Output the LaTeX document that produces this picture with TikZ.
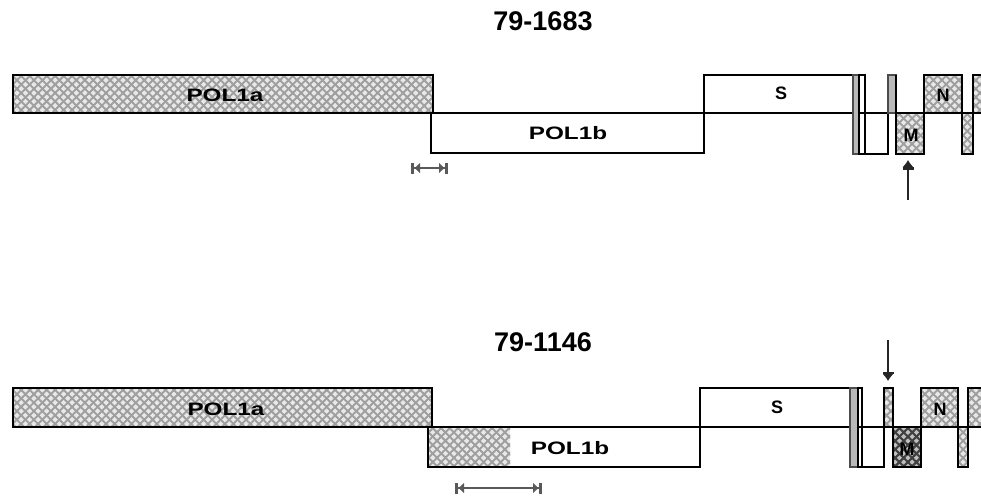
\documentclass[tikz,border=0pt]{standalone}
\usepackage{fontspec}
\setmainfont{Liberation Sans}
\usetikzlibrary{patterns,patterns.meta,arrows.meta}
\tikzset{
  hatch/.style={preaction={fill=gray!18},preaction={pattern={Hatch[angle=45,distance=6pt,line width=1.6pt]},pattern color=gray!75},
    pattern={Hatch[angle=-45,distance=6pt,line width=1.6pt]},pattern color=gray!75},
  darkhatch/.style={preaction={fill=gray!50},preaction={pattern={Hatch[angle=45,distance=6pt,line width=1.8pt]},pattern color=black!75},
    pattern={Hatch[angle=-45,distance=6pt,line width=1.8pt]},pattern color=black!75},
  seg/.style={draw=black,line width=2.6pt},
  grayseg/.style={draw=gray!60!black,fill=gray!55,line width=1.8pt},
  lbl/.style={font=\bfseries\fontsize{18}{18}\selectfont,xscale=1.35,inner sep=0pt},
  small/.style={font=\bfseries\fontsize{18}{18}\selectfont,inner sep=0pt},
  ttl/.style={font=\bfseries\fontsize{27}{27}\selectfont,inner sep=0pt},
  scalebar/.style={line width=2pt,draw=black!65,{Bar[width=11pt,line width=3pt]Latex[length=6pt,width=11pt]}-{Latex[length=6pt,width=11pt]Bar[width=11pt,line width=3pt]}},
  sitearrow/.style={line width=2.4pt,draw=gray!30!black,-{Bar[width=11pt,line width=2.5pt]Latex[length=7pt,width=11pt]}}
}
\begin{document}
\begin{tikzpicture}[x=1pt,y=-1pt]
\useasboundingbox (0,0) rectangle (981,496);
% ---------- top panel ----------
\node[ttl] (t1) at (543,21) {79-1683};
\draw[seg] (433,113) -- (981,113);
\path[seg,hatch] (13,75) rectangle (433,113);
\node[lbl] (a1) at (225,95) {POL1a};
\draw[seg] (431,113) rectangle (704,153);
\node[lbl] (b1) at (568,133) {POL1b};
\draw[seg] (704,75) rectangle (853,113);
\node[small] (s1) at (781,93) {S};
\path[grayseg] (853,75) rectangle (859,154);
\draw[seg] (859,75) rectangle (865,154);
\draw[seg] (865,113) rectangle (888,154);
\path[grayseg] (888,75) rectangle (896,113);
\draw[seg] (896,75) -- (896,154);
\path[seg,hatch] (896,113) rectangle (924,154);
\node[small] (m1) at (911,135) {M};
\path[seg,hatch] (924,75) rectangle (962,113);
\node[small] (n1) at (943,95) {N};
\path[seg,hatch] (962,113) rectangle (973,154);
\path[seg,hatch] (973,75) rectangle (985,113);
\coordinate (ms1) at (908,200);
\coordinate (me1) at (908,160);
\draw[sitearrow] (ms1) -- (me1);
\coordinate (sa1) at (411,168);
\coordinate (sb1) at (448,168);
\draw[scalebar] (sa1) -- (sb1);
% ---------- bottom panel ----------
\node[ttl] (t2) at (543,342) {79-1146};
\draw[seg] (432,427) -- (981,427);
\path[seg,hatch] (13,388) rectangle (432,427);
\node[lbl] (a2) at (226,409) {POL1a};
\path[hatch] (428,427) rectangle (510,467);
\draw[seg] (428,427) rectangle (700,467);
\node[lbl] (b2) at (570,448) {POL1b};
\draw[seg] (700,388) rectangle (850,427);
\node[small] (s2) at (777,407) {S};
\path[grayseg] (850,388) rectangle (858,467);
\draw[seg] (858,388) rectangle (862,467);
\draw[seg] (862,427) rectangle (884,467);
\path[seg,hatch] (884,388) rectangle (893,427);
\path[seg,darkhatch] (893,427) rectangle (921,467);
\node[small] (m2) at (907,449) {M};
\path[seg,hatch] (921,388) rectangle (958,427);
\node[small] (n2) at (940,409) {N};
\path[seg,hatch] (958,427) rectangle (968,467);
\path[seg,hatch] (968,388) rectangle (985,427);
\coordinate (ms2) at (888,340);
\coordinate (me2) at (888,381);
\draw[sitearrow] (ms2) -- (me2);
\coordinate (sa2) at (455,488);
\coordinate (sb2) at (542,488);
\draw[scalebar] (sa2) -- (sb2);
\end{tikzpicture}
\end{document}
